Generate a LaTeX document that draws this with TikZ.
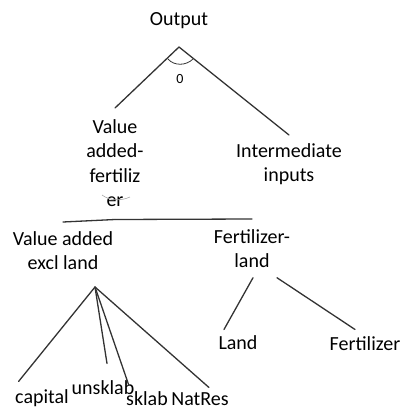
\documentclass[tikz,border=0pt]{standalone}
\usepackage{fontspec}
\setmainfont{Carlito}

\begin{document}
\begin{tikzpicture}[x=1pt,y=-1pt,line width=1.3pt,
  lbl/.style={inner sep=0pt,font=\fontsize{20}{24.4}\selectfont},
  multi/.style={lbl,align=center,anchor=north},
  brch/.style={draw=black!80,line cap=round}]
\useasboundingbox (0,0) rectangle (403,410);
% top nest
\node[lbl,anchor=base] (out) at (179,25) {Output};
\coordinate (top) at (179,47);
\node[multi] (vaf) at (115,119) {Value\\added-\\fertiliz\\er};
\node[multi] (mid) at (289,143) {Intermediate\\inputs};
\draw[brch] (top) -- ([yshift=11pt]vaf.north);
\draw[brch] (top) -- ([yshift=8pt]mid.north);
% elasticity mark
\draw[black!80,line width=0.8pt] (168,59) .. controls (174,66) and (186,66) .. (193,59);
\node[inner sep=0pt,font=\fontsize{14}{17}\selectfont] (sig) at (180,79) {0};
\draw[black!35,line width=0.6pt] (102,195) .. controls (110,201) and (121,201) .. (130,197);
% value added - fertilizer nest
\coordinate (vafb) at (115,219.5);
\node[multi] (va) at (63,231) {Value added\\excl land};
\node[multi] (fl) at (252,229) {Fertilizer-\\land};
\draw[brch] (vafb) -- ([yshift=9pt]va.north);
\draw[brch] (vafb) -- ([yshift=10pt]fl.north);
% primary factors
\coordinate (vab) at (95,287);
\node[lbl,anchor=base] (cap) at (42,403) {capital};
\node[lbl,anchor=base] (uns) at (103,394) {unsklab};
\node[lbl,anchor=base] (skl) at (147,405) {sklab};
\node[lbl,anchor=base] (nat) at (200,405) {NatRes};
\draw[brch] (vab) -- ([shift={(4,-7)}]cap.north west);
\draw[brch] (vab) -- ([shift={(4,-16)}]uns.north);
\draw[brch] (vab) -- ([shift={(3,-6)}]skl.north west);
\draw[brch] (vab) -- ([shift={(9,-4)}]nat.north);
% land and fertilizer
\node[lbl,anchor=base] (land) at (238,349) {Land};
\node[lbl,anchor=base] (fert) at (365,350) {Fertilizer};
\draw[brch] ([shift={(1,9)}]fl.south) -- ([shift={(-14,-5)}]land.north);
\draw[brch] ([shift={(25,9)}]fl.south) -- ([shift={(-10,-6)}]fert.north);
\end{tikzpicture}
\end{document}
